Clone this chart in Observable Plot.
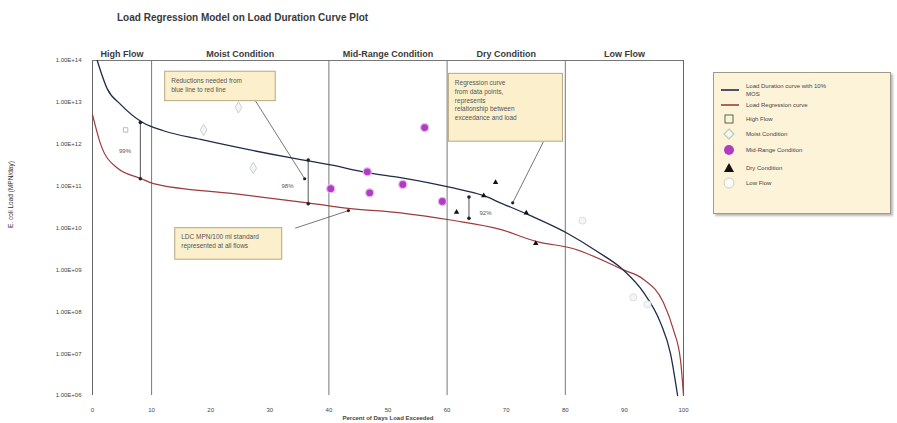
<!DOCTYPE html>
<html>
<head>
<meta charset="utf-8">
<script src="https://cdn.jsdelivr.net/npm/d3@7"></script>
<script src="https://cdn.jsdelivr.net/npm/@observablehq/plot@0.6"></script>
<style>
  html, body { margin: 0; padding: 0; background: #fff; }
  #wrap { position: relative; width: 897px; height: 423px; font-family: "Liberation Sans", Arial, sans-serif; }
  #title { position: absolute; left: 117px; top: 12px; font-size: 10px; font-weight: bold; color: #3a3a3a; white-space: nowrap; }
  #legend { position: absolute; left: 713px; top: 72px; width: 176px; height: 140px; background: #fdf3d9; border: 1px solid #a09a8a; box-shadow: 2px 2px 2px #bbb; font-size: 6px; color: #444; }
  .item { position: absolute; left: 6px; display: flex; align-items: center; }
  .item svg { flex: none; }
  .item span { margin-left: 6px; line-height: 8px; }
</style>
</head>
<body>
<div id="wrap">
  <div id="chart"></div>
  <div id="title"></div>
  <div id="legend"></div>
</div>
<script>
// ---------- data ----------
const titleText = "Load Regression Model on Load Duration Curve Plot";
const xLabel = "Percent of Days Load Exceeded";
const yLabel = "E. coli Load (MPN/day)";

const xTicks = [0, 10, 20, 30, 40, 50, 60, 70, 80, 90, 100];
const yTicks = [1e6, 1e7, 1e8, 1e9, 1e10, 1e11, 1e12, 1e13, 1e14];
const yTickLabels = ["1.00E+06", "1.00E+07", "1.00E+08", "1.00E+09", "1.00E+10", "1.00E+11", "1.00E+12", "1.00E+13", "1.00E+14"];

const zoneNames = ["High Flow", "Moist Condition", "Mid-Range Condition", "Dry Condition", "Low Flow"];
const zoneMid = [5, 25, 50, 70, 90];
const zoneBounds = [10, 40, 60, 80];

// Load duration curve (with MOS)
const ldcX = [0.8, 2.5, 4.7, 8.5, 12, 18.3, 33, 40.3, 46.5, 52.1, 60.6, 66.2, 69, 74, 80.4, 85.4, 89.8, 93.2, 96.1, 97.8, 99.0];
const ldcY = [1e14, 2.1e13, 9.1e12, 3.3e12, 2.1e12, 1.3e12, 4.9e11, 3.2e11, 2.1e11, 1.6e11, 9.3e10, 5.9e10, 4.0e10, 2.0e10, 7.4e9, 2.75e9, 1.0e9, 2.95e8, 5.5e7, 1.0e7, 1e6];

// Load regression curve
const regX = [0, 1.4, 4.2, 8.3, 10.3, 23.9, 36.4, 43.7, 52.1, 60.6, 69, 75, 81.4, 89.8, 93.2, 96.6, 98.3, 99.5, 100];
const regY = [5.1e12, 9.8e11, 2.7e11, 1.5e11, 1.15e11, 6.6e10, 4.0e10, 2.9e10, 2.3e10, 1.55e10, 9.3e9, 4.8e9, 3.2e9, 1.0e9, 6.0e8, 1.66e8, 3.7e7, 6.9e6, 1e6];

// Observed points by flow condition
const highX = [5.6];
const highY = [2.2e12];
const moistX = [18.8, 24.7, 27.2];
const moistY = [2.2e12, 7.6e12, 2.7e11];
const midX = [40.3, 46.5, 46.9, 52.5, 56.2, 59.2];
const midY = [8.7e10, 2.2e11, 6.9e10, 1.1e11, 2.5e12, 4.3e10];
const dryX = [61.6, 66.2, 68.2, 73.4, 75.0];
const dryY = [2.4e10, 5.9e10, 1.23e11, 2.3e10, 4.3e9];
const lowX = [82.9, 91.5, 93.9];
const lowY = [1.5e10, 2.2e8, 1.5e8];

// Reduction bars
const barX = [8.1, 36.5, 63.7];
const barTop = [3.3e12, 4.2e11, 5.5e10];
const barBot = [1.5e11, 3.8e10, 1.7e10];
const barLabel = ["99%", "98%", "92%"];
const barLabelX = [5.5, 33.0, 66.5];
const barLabelY = [7.0e11, 9.8e10, 2.3e10];

// Callout boxes
const boxX1 = [12.3, 60.3, 14.0];
const boxX2 = [31.0, 79.6, 32.1];
const boxTop = [5.4e13, 4.8e13, 9.9e9];
const boxBot = [1.07e13, 1.15e12, 1.75e9];
const boxText = [
  "Reductions needed from\nblue line to red line",
  "Regression curve\nfrom data points,\nrepresents\nrelationship between\nexceedance and load",
  "LDC MPN/100 ml standard\nrepresented at all flows"
];
const leaderX1 = [27.6, 76.3, 34.3];
const leaderY1 = [1.07e13, 1.15e12, 9.9e9];
const leaderX2 = [35.9, 71.1, 43.3];
const leaderY2 = [1.5e11, 4.0e10, 2.6e10];

const legendLabels = ["Load Duration curve with 10%\nMOS", "Load Regression curve", "High Flow", "Moist Condition", "Mid-Range Condition", "Dry Condition", "Low Flow"];

// ---------- build tables ----------
const zip = (xs, ys) => xs.map((x, i) => ({x, y: ys[i]}));
const ldc = zip(ldcX, ldcY);
const reg = zip(regX, regY);
const high = zip(highX, highY), moist = zip(moistX, moistY), mid = zip(midX, midY), dry = zip(dryX, dryY), low = zip(lowX, lowY);
const bars = barX.map((x, i) => ({x, top: barTop[i], bot: barBot[i], label: barLabel[i], lx: barLabelX[i], ly: barLabelY[i]}));
const barEnds = bars.flatMap(b => [{x: b.x, y: b.top}, {x: b.x, y: b.bot}]);
const boxes = boxX1.map((x1, i) => ({x1, x2: boxX2[i], top: boxTop[i], bot: boxBot[i], text: boxText[i]}));
const leaders = leaderX1.map((x1, i) => ({x1, y1: leaderY1[i], x2: leaderX2[i], y2: leaderY2[i]}));
const zones = zoneNames.map((name, i) => ({name, x: zoneMid[i]}));

const LDC_COLOR = "#1f2b47";
const REG_COLOR = "#9e3b3e";
const MID_COLOR = "#b03cc4";
const font = "'Liberation Sans', Arial, sans-serif";

const chart = Plot.plot({
  width: 897,
  height: 423,
  marginLeft: 92,
  marginRight: 214,
  marginTop: 60,
  marginBottom: 28,
  style: {fontFamily: font, fontSize: "6px", color: "#444", background: "transparent"},
  x: {domain: [0, 100]},
  y: {type: "log", domain: [1e6, 1e14]},
  marks: [
    Plot.axisX({ticks: xTicks, tickSize: 0, tickPadding: 12, label: null, tickFormat: d => String(d)}),
    Plot.axisY({ticks: yTicks, tickSize: 0, tickPadding: 11, label: null, tickFormat: d => yTickLabels[yTicks.indexOf(d)]}),
    Plot.text([xLabel], {frameAnchor: "bottom", dy: 24, fontSize: 6, fontWeight: "bold", fill: "#444"}),
    Plot.text([yLabel], {frameAnchor: "left", dx: -82, rotate: -90, fontSize: 6.5, fill: "#333"}),
    Plot.text(zones, {x: "x", text: "name", frameAnchor: "top", dy: -10, fontSize: 9, fontWeight: "bold", fill: "#3a3a3a"}),
    // frame lines
    Plot.ruleX([0, 100], {stroke: "#666", strokeWidth: 1}),
    Plot.ruleX(zoneBounds, {stroke: "#777", strokeWidth: 1}),
    Plot.ruleY([1e14], {stroke: "#777", strokeWidth: 1}),
    // callout boxes
    Plot.link(leaders, {x1: "x1", y1: "y1", x2: "x2", y2: "y2", stroke: "#555", strokeWidth: 0.8}),
    Plot.rect(boxes, {x1: "x1", x2: "x2", y1: "bot", y2: "top", fill: "#fcf0cc", stroke: "#b5a77f", strokeWidth: 1}),
    Plot.text(boxes, {x: "x1", y: "top", text: "text", textAnchor: "start", lineAnchor: "top", dx: 6, dy: 5, fontSize: 6.5, lineHeight: 1.35, fill: "#555"}),
    // curves
    Plot.line(reg, {x: "x", y: "y", stroke: REG_COLOR, strokeWidth: 1.2, curve: "monotone-x"}),
    Plot.line(ldc, {x: "x", y: "y", stroke: LDC_COLOR, strokeWidth: 1.3, curve: "monotone-x"}),
    // reduction bars
    Plot.link(bars, {x1: "x", x2: "x", y1: "top", y2: "bot", stroke: "#555", strokeWidth: 1}),
    Plot.dot(barEnds, {x: "x", y: "y", r: 1.8, fill: "#222"}),
    Plot.dot(leaders, {x: "x2", y: "y2", r: 1.6, fill: "#222"}),
    Plot.text(bars, {x: "lx", y: "ly", text: "label", fontSize: 6, fill: "#555"}),
    // observations
    Plot.dot(high, {x: "x", y: "y", symbol: "square", r: 2.5, stroke: "#aaa", strokeWidth: 0.8, fill: "none"}),
    Plot.dot(moist, {x: "x", y: "y", symbol: "diamond", r: 3.5, stroke: "#c8d2d6", strokeWidth: 1, fill: "#f3f5f6"}),
    Plot.dot(mid, {x: "x", y: "y", r: 4, fill: MID_COLOR, stroke: "#e6b8ee", strokeWidth: 1.2}),
    Plot.dot(dry, {x: "x", y: "y", symbol: "triangle", r: 2, fill: "#111"}),
    Plot.dot(low, {x: "x", y: "y", r: 3.5, stroke: "#dcdee0", strokeWidth: 1, fill: "#f4f5f6"})
  ]
});
document.getElementById("chart").append(chart);
document.getElementById("title").textContent = titleText;

// ---------- legend ----------
const icons = [
  `<svg width="20" height="8"><line x1="1" y1="4" x2="19" y2="4" stroke="${LDC_COLOR}" stroke-width="1.6"/></svg>`,
  `<svg width="20" height="8"><line x1="1" y1="4" x2="19" y2="4" stroke="${REG_COLOR}" stroke-width="1.6"/></svg>`,
  `<svg width="20" height="10"><rect x="5" y="1" width="8" height="8" fill="none" stroke="#556b4a" stroke-width="1"/></svg>`,
  `<svg width="20" height="12"><path d="M9 1 L14 6 L9 11 L4 6 Z" fill="#f5f8f5" stroke="#b9cdb5" stroke-width="1.2"/></svg>`,
  `<svg width="20" height="12"><circle cx="9" cy="6" r="5" fill="${MID_COLOR}"/></svg>`,
  `<svg width="20" height="12"><path d="M9 1 L14 10 L4 10 Z" fill="#111"/></svg>`,
  `<svg width="20" height="12"><circle cx="9" cy="6" r="5" fill="#fbfbf7" stroke="#d0d0c8" stroke-width="1"/></svg>`
];
const legendTops = [9, 28, 41, 55, 71, 89, 104];
const lg = document.getElementById("legend");
legendLabels.forEach((label, i) => {
  const d = document.createElement("div");
  d.className = "item";
  d.style.top = legendTops[i] + "px";
  d.innerHTML = icons[i] + `<span>${label.replace("\n", "<br>")}</span>`;
  lg.append(d);
});
</script>
</body>
</html>
